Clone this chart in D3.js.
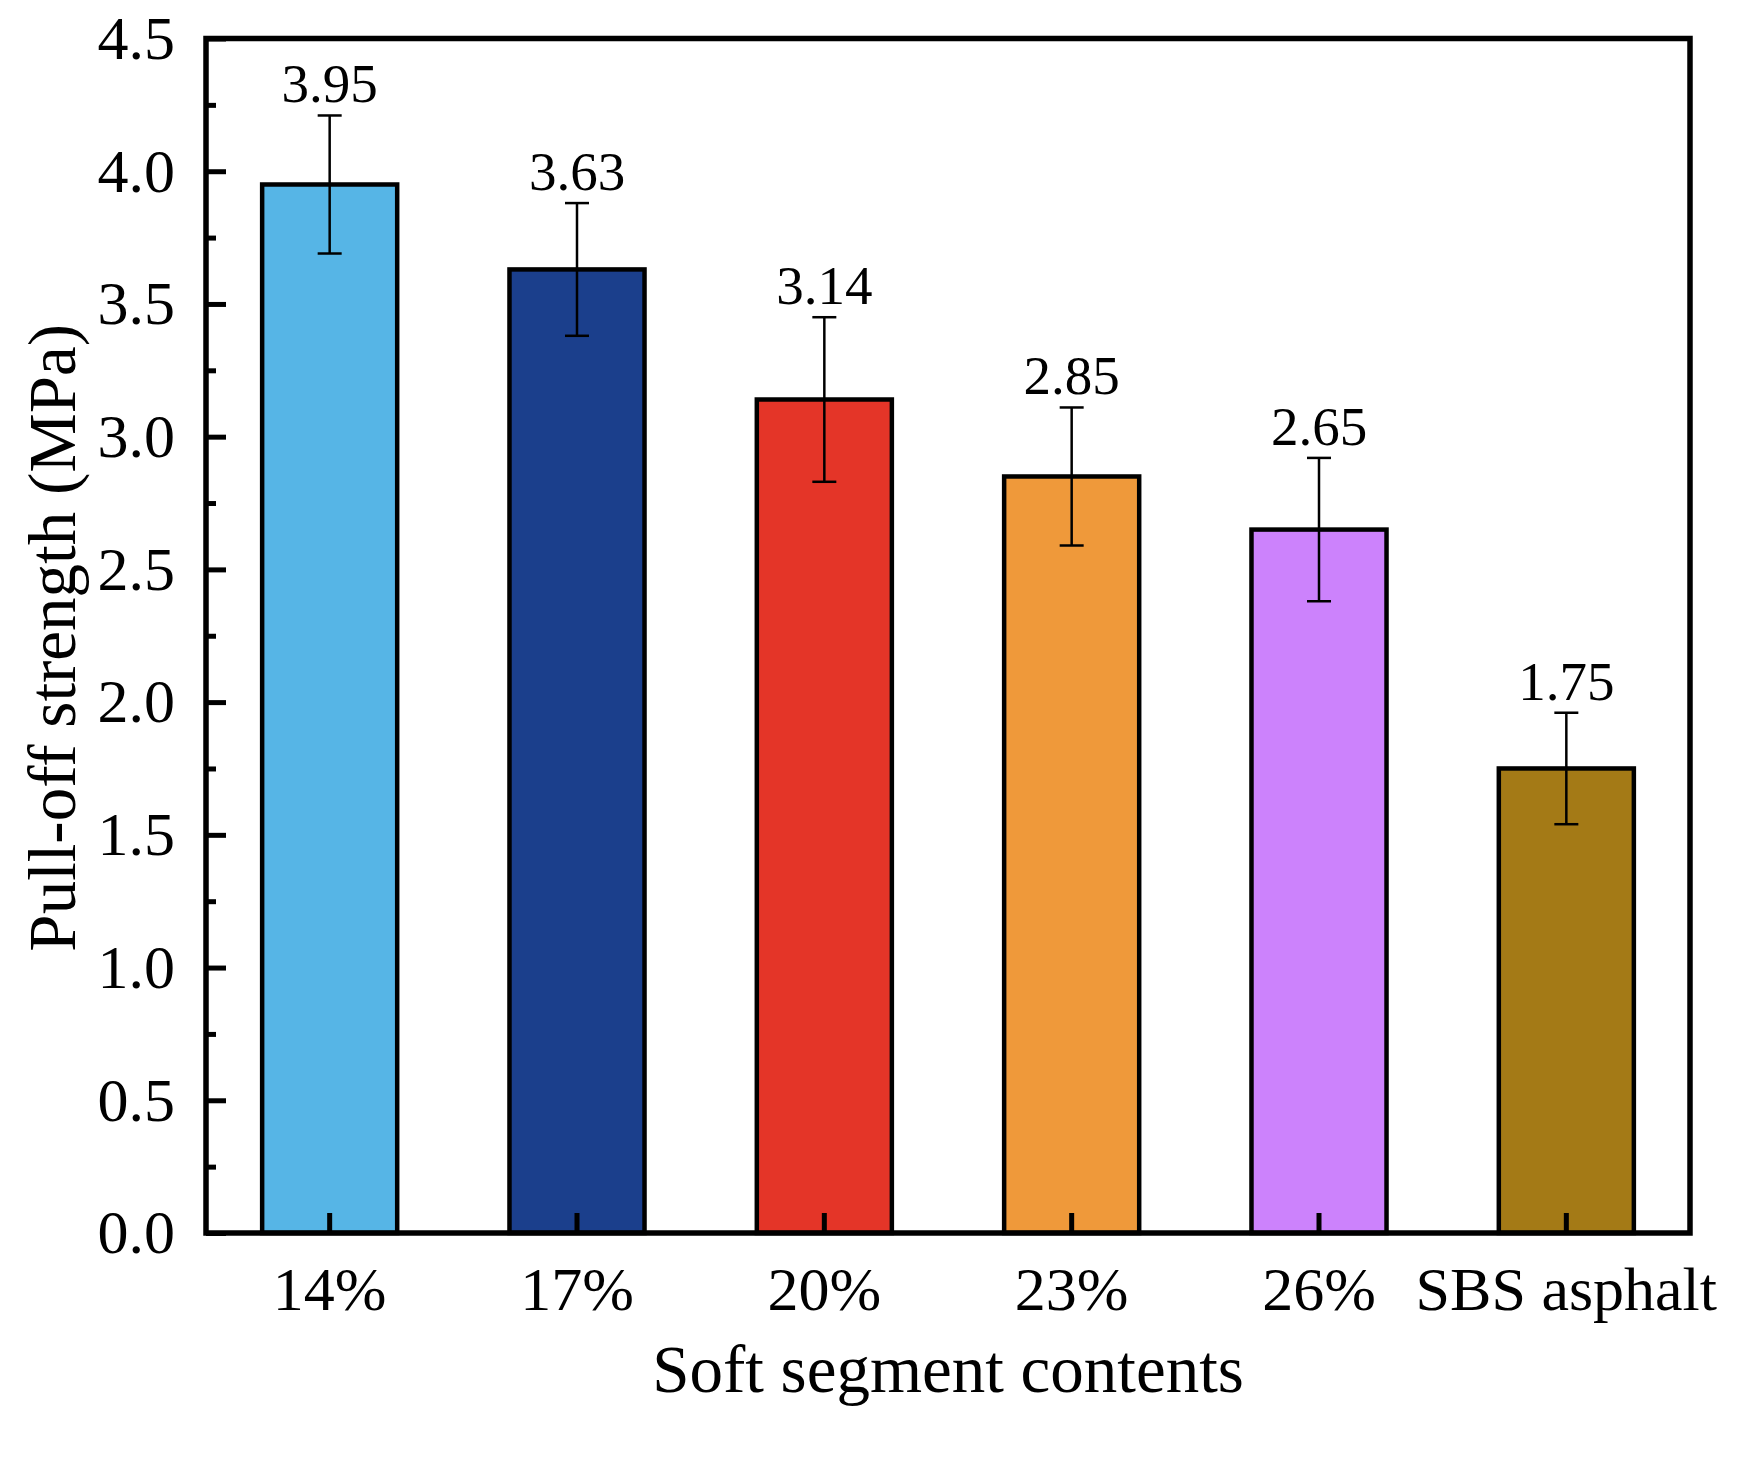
<!DOCTYPE html>
<html>
<head>
<meta charset="utf-8">
<script src="https://cdn.jsdelivr.net/npm/d3@7"></script>
<style>
  body { margin: 0; background: #fff; }
  svg text { font-family: "Liberation Serif", "Times New Roman", serif; fill: #000; }
</style>
</head>
<body>
<div id="chart"></div>
<script>
// data
var categories = ["14%", "17%", "20%", "23%", "26%", "SBS asphalt"];
var strength = [3.95, 3.63, 3.14, 2.85, 2.65, 1.75];
var errors = [0.26, 0.25, 0.31, 0.26, 0.27, 0.21];
var barColors = ["#56b5e6", "#1b3f8c", "#e43528", "#ef993a", "#cc82fc", "#a47a16"];
var yTicks = [0, 0.5, 1.0, 1.5, 2.0, 2.5, 3.0, 3.5, 4.0, 4.5];
var yMinorTicks = [0.25, 0.75, 1.25, 1.75, 2.25, 2.75, 3.25, 3.75, 4.25];

var data = categories.map(function (c, i) {
  return { cat: c, value: strength[i], err: errors[i] };
});

var W = 1742, H = 1462;
var margin = { top: 38.5, right: 52, bottom: 229, left: 206 },
  width = W - margin.left - margin.right,
  height = H - margin.top - margin.bottom;

var svg = d3
  .select("#chart")
  .append("svg")
  .attr("width", W)
  .attr("height", H);

var g = svg
  .append("g")
  .attr("transform", "translate(" + margin.left + "," + margin.top + ")");

var x = d3.scaleBand().domain(categories).range([0, width]).padding(0);
var y = d3.scaleLinear().domain([0, 4.5]).range([height, 0]);
var color = d3.scaleOrdinal().domain(categories).range(barColors);

var barW = x.bandwidth() * 0.546;

// bars
g.selectAll("rect.bar")
  .data(data)
  .enter()
  .append("rect")
  .attr("class", "bar")
  .attr("x", function (d) {
    return x(d.cat) + x.bandwidth() / 2 - barW / 2;
  })
  .attr("y", function (d) {
    return y(d.value);
  })
  .attr("width", barW)
  .attr("height", function (d) {
    return height - y(d.value);
  })
  .attr("fill", function (d) {
    return color(d.cat);
  })
  .attr("stroke", "#000")
  .attr("stroke-width", 4.5);

// error bars
var eb = g.selectAll("g.err").data(data).enter().append("g").attr("class", "err");
eb.append("line")
  .attr("x1", function (d) { return x(d.cat) + x.bandwidth() / 2; })
  .attr("x2", function (d) { return x(d.cat) + x.bandwidth() / 2; })
  .attr("y1", function (d) { return y(d.value + d.err); })
  .attr("y2", function (d) { return y(d.value - d.err); })
  .attr("stroke", "#000")
  .attr("stroke-width", 2.5);
[1, -1].forEach(function (s) {
  eb.append("line")
    .attr("x1", function (d) { return x(d.cat) + x.bandwidth() / 2 - 12; })
    .attr("x2", function (d) { return x(d.cat) + x.bandwidth() / 2 + 12; })
    .attr("y1", function (d) { return y(d.value + s * d.err); })
    .attr("y2", function (d) { return y(d.value + s * d.err); })
    .attr("stroke", "#000")
    .attr("stroke-width", 2.5);
});

// value labels above the error bars
g.selectAll("text.val")
  .data(data)
  .enter()
  .append("text")
  .attr("class", "val")
  .attr("x", function (d) { return x(d.cat) + x.bandwidth() / 2; })
  .attr("y", function (d) { return y(d.value + d.err) - 13; })
  .attr("text-anchor", "middle")
  .style("font-size", "55px")
  .text(function (d) { return d.value.toFixed(2); });

// y axis, ticks pointing inward
var yAxis = g
  .append("g")
  .call(
    d3.axisLeft(y)
      .tickValues(yTicks)
      .tickSize(-20)
      .tickPadding(31)
      .tickFormat(d3.format(".1f"))
  );
yAxis.selectAll("text").style("font-size", "62px").attr("dy", "0.32em");
yAxis.selectAll("line").attr("stroke-width", 5);
yAxis.select(".domain").remove();

g.append("g")
  .call(d3.axisLeft(y).tickValues(yMinorTicks).tickSize(-10).tickFormat(""))
  .call(function (a) {
    a.select(".domain").remove();
    a.selectAll("line").attr("stroke-width", 5);
  });

// x axis
var xAxis = g
  .append("g")
  .attr("transform", "translate(0," + height + ")")
  .call(d3.axisBottom(x).tickSize(-20));
xAxis.select(".domain").remove();
xAxis.selectAll("line").attr("stroke-width", 5);
xAxis.selectAll("text").style("font-size", "62px").attr("y", 77).attr("dy", 0);

// frame
g.append("rect")
  .attr("x", 0)
  .attr("y", 0)
  .attr("width", width)
  .attr("height", height)
  .attr("fill", "none")
  .attr("stroke", "#000")
  .attr("stroke-width", 5.5);

// axis titles
svg
  .append("text")
  .attr("x", margin.left + width / 2)
  .attr("y", 1392)
  .attr("text-anchor", "middle")
  .style("font-size", "67px")
  .text("Soft segment contents");

svg
  .append("text")
  .attr("transform", "translate(75," + (margin.top + height / 2 + 2) + ") rotate(-90)")
  .attr("text-anchor", "middle")
  .style("font-size", "67px")
  .text("Pull-off strength (MPa)");
</script>
</body>
</html>
